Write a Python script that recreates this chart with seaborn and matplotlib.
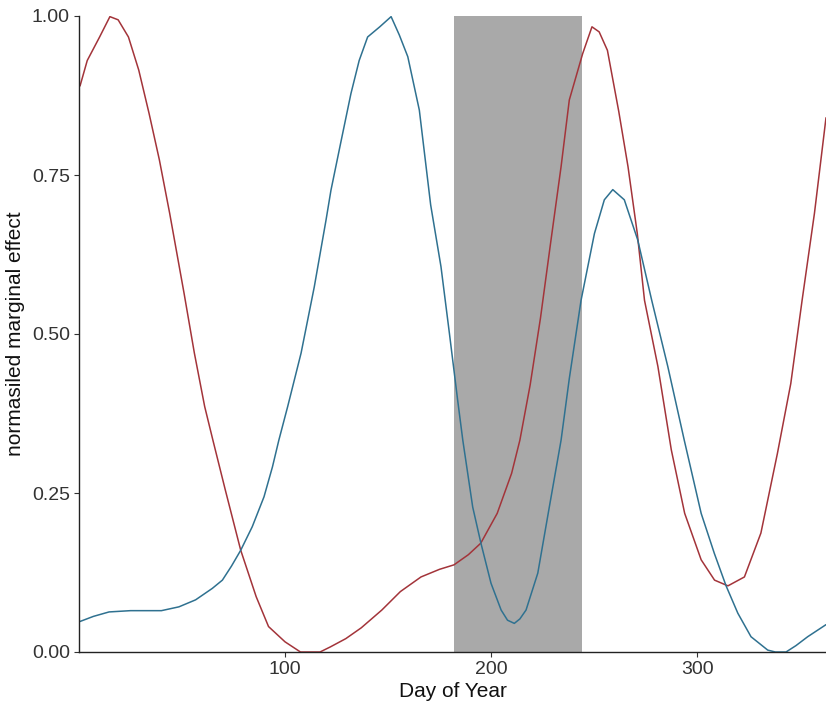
import numpy as np
import pandas as pd
import seaborn as sns
import matplotlib
matplotlib.use('Agg')
import matplotlib.pyplot as plt

# 数据：曲线点（day of year, normalised marginal effect）
red_day = [0.5, 4, 10, 15, 19, 24, 29, 34, 39, 44, 51, 56, 61, 65, 71, 78.5, 86, 92, 100,
           107.5, 112, 117, 122, 129.5, 137, 147, 156, 166, 175, 182, 189, 195, 203, 210,
           214, 219, 224, 229, 234, 238, 244.5, 249, 252.5, 256.5, 262, 266.5, 271, 274.5,
           281, 287.5, 294, 302, 308.5, 315, 323, 331, 339, 345.5, 351, 357, 362.6]
red_val = [0.89, 0.93, 0.967, 0.999, 0.994, 0.967, 0.915, 0.847, 0.774, 0.69, 0.564, 0.47,
           0.386, 0.333, 0.255, 0.16, 0.087, 0.04, 0.016, 0.0, 0.0, 0.0, 0.008, 0.021,
           0.038, 0.066, 0.095, 0.118, 0.13, 0.137, 0.153, 0.171, 0.218, 0.281, 0.333, 0.42,
           0.525, 0.645, 0.763, 0.868, 0.941, 0.983, 0.975, 0.946, 0.85, 0.763, 0.658, 0.553,
           0.449, 0.318, 0.218, 0.145, 0.113, 0.104, 0.118, 0.187, 0.312, 0.422, 0.553, 0.69,
           0.84]

blue_day = [0.5, 7, 14.6, 25, 40, 48.5, 56.6, 64.7, 69.6, 74, 78.5, 84.1, 89.8, 93.9, 97,
            101.3, 107.8, 114.2, 119.9, 122.3, 127, 132, 136, 140.1, 146, 151.5, 155.5,
            159.6, 165.2, 170.7, 175.7, 179.8, 183.8, 186.3, 191.1, 195.1, 200, 204.9, 208,
            211.3, 214, 217, 222.7, 228.3, 234, 238, 243.7, 250.2, 255, 259.1, 264.7, 271.2,
            278, 285.8, 293.8, 302, 308.4, 314.1, 319.8, 326.2, 334.3, 338, 343.2, 348,
            353.7, 362.6]
blue_val = [0.048, 0.056, 0.063, 0.065, 0.065, 0.071, 0.082, 0.1, 0.113, 0.135, 0.16, 0.197,
            0.244, 0.291, 0.333, 0.386, 0.47, 0.574, 0.679, 0.726, 0.8, 0.878, 0.93, 0.967,
            0.983, 0.999, 0.97, 0.936, 0.852, 0.703, 0.606, 0.501, 0.396, 0.333, 0.228, 0.171,
            0.108, 0.066, 0.05, 0.045, 0.052, 0.066, 0.124, 0.228, 0.333, 0.43, 0.553, 0.658,
            0.711, 0.727, 0.711, 0.648, 0.553, 0.449, 0.333, 0.218, 0.155, 0.104, 0.061, 0.024,
            0.003, 0.0, 0.0, 0.01, 0.024, 0.043]

# 阴影区间（7月-8月）
shade_start, shade_end = 182, 244
x_ticks = [100, 200, 300]
y_ticks = [0.0, 0.25, 0.5, 0.75, 1.0]

df = pd.concat([
    pd.DataFrame({'day': red_day, 'effect': red_val, 'series': 'red'}),
    pd.DataFrame({'day': blue_day, 'effect': blue_val, 'series': 'blue'}),
])

sns.set_style('ticks')
plt.rcParams['font.family'] = ['Liberation Sans', 'DejaVu Sans']

fig = plt.figure(figsize=(8.26, 7.09), dpi=100)
ax = fig.add_axes([79 / 826, 1 - 652 / 709, 1 - 79 / 826, (652 - 16) / 709])

ax.axvspan(shade_start, shade_end, color='#A9A9A9', lw=0, zorder=0)
sns.lineplot(data=df, x='day', y='effect', hue='series', sort=False,
             palette={'red': '#A3343A', 'blue': '#2F7190'}, linewidth=1.1,
             legend=False, ax=ax)

ax.set_xlim(0, 362.6)
ax.set_ylim(0, 1)
ax.set_xticks(x_ticks)
ax.set_yticks(y_ticks)
ax.set_yticklabels(['%.2f' % v for v in y_ticks])
ax.tick_params(axis='both', length=3.5, width=0.8, color='#333333',
               labelsize=14, labelcolor='#333333', pad=3)
for s in ['top', 'right']:
    ax.spines[s].set_visible(False)
for s in ['left', 'bottom']:
    ax.spines[s].set_color('#222222')
    ax.spines[s].set_linewidth(1.0)

ax.set_xlabel('Day of Year', fontsize=15, color='#111111', labelpad=3)
ax.set_ylabel('normasiled marginal effect', fontsize=15, color='#111111', labelpad=5)

plt.savefig('out.png', dpi=100)
